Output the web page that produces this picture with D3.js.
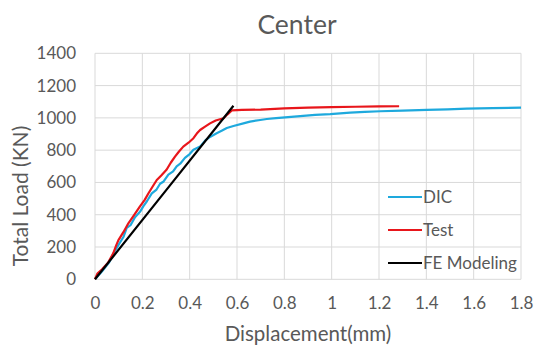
<!DOCTYPE html>
<html>
<head>
<meta charset="utf-8">
<script src="https://cdn.jsdelivr.net/npm/d3@7"></script>
<style>
  html, body { margin: 0; padding: 0; background: #fff; }
  svg { display: block; font-family: Lato, "Open Sans", sans-serif; }
</style>
</head>
<body>
<svg id="chart" width="535" height="348"></svg>
<script>
// Load–displacement curves at the center gauge
const xTicks = [0, 0.2, 0.4, 0.6, 0.8, 1, 1.2, 1.4, 1.6, 1.8];
const yTicks = [0, 200, 400, 600, 800, 1000, 1200, 1400];

const dicX = [0, 0.03, 0.06, 0.08, 0.10, 0.12, 0.134, 0.15, 0.169, 0.19, 0.204, 0.22, 0.24, 0.26, 0.275, 0.29, 0.31, 0.33, 0.345, 0.36, 0.38, 0.40, 0.416, 0.444, 0.466, 0.486, 0.514, 0.535, 0.557, 0.585, 0.627, 0.655, 0.698, 0.726, 0.765, 0.803, 0.867, 0.93, 0.994, 1.078, 1.14, 1.205, 1.30, 1.402, 1.49, 1.571, 1.68, 1.80];
const dicY = [0, 50, 105, 165, 215, 262, 318, 335, 385, 418, 452, 485, 532, 556, 592, 606, 648, 668, 700, 716, 752, 776, 803, 822, 860, 882, 905, 920, 937, 950, 966, 977, 987, 993, 998, 1003, 1011, 1018, 1023, 1033, 1037, 1041, 1045, 1049, 1053, 1057, 1060, 1063];

const testX = [0, 0.01, 0.03, 0.055, 0.077, 0.09, 0.099, 0.12, 0.141, 0.165, 0.19, 0.21, 0.226, 0.245, 0.261, 0.28, 0.303, 0.32, 0.338, 0.355, 0.373, 0.395, 0.416, 0.43, 0.444, 0.465, 0.486, 0.51, 0.543, 0.56, 0.578, 0.62, 0.70, 0.80, 0.90, 1.0, 1.1, 1.2, 1.285];
const testY = [0, 35, 62, 102, 161, 212, 243, 292, 347, 398, 452, 492, 533, 578, 615, 643, 680, 722, 760, 792, 822, 846, 874, 903, 925, 946, 966, 984, 998, 1022, 1046, 1049, 1051, 1059, 1063, 1066, 1069, 1071, 1072];

const feX = [0, 0.3, 0.585];
const feY = [0, 551, 1075];

const seriesNames = ["DIC", "Test", "FE Modeling"];
const seriesColors = ["#1ea9dd", "#e8161b", "#000000"];

const svg = d3.select("#chart");
const plot = { left: 95, right: 521, top: 53.3, bottom: 279.3 };

const x = d3.scaleLinear().domain([0, 1.8]).range([plot.left, plot.right]);
const y = d3.scaleLinear().domain([0, 1400]).range([plot.bottom, plot.top]);

const textColor = "#595959";
const gridColor = "#d9d9d9";

// gridlines
svg.append("g").selectAll("line").data(xTicks).join("line")
  .attr("x1", d => x(d)).attr("x2", d => x(d))
  .attr("y1", plot.top).attr("y2", plot.bottom)
  .attr("stroke", gridColor).attr("stroke-width", 1);
svg.append("g").selectAll("line").data(yTicks).join("line")
  .attr("x1", plot.left).attr("x2", plot.right)
  .attr("y1", d => y(d)).attr("y2", d => y(d))
  .attr("stroke", gridColor).attr("stroke-width", 1);

// axes (labels only, lines hidden)
const xAxis = svg.append("g")
  .attr("transform", `translate(0,${plot.bottom})`)
  .call(d3.axisBottom(x).tickValues(xTicks).tickSize(0).tickPadding(18).tickFormat(d => String(d)));
const yAxis = svg.append("g")
  .attr("transform", `translate(${plot.left},0)`)
  .call(d3.axisLeft(y).tickValues(yTicks).tickSize(0).tickPadding(19).tickFormat(d => String(d)));
[xAxis, yAxis].forEach(a => {
  a.select(".domain").remove();
  a.selectAll("text").attr("fill", textColor).style("font-size", "17px").style("font-family", "Lato, sans-serif");
});

// series
const line = d3.line().x(d => x(d[0])).y(d => y(d[1]));
const series = [
  d3.zip(dicX, dicY),
  d3.zip(testX, testY),
  d3.zip(feX, feY)
];
series.forEach((pts, i) => {
  svg.append("path").datum(pts)
    .attr("d", line)
    .attr("fill", "none")
    .attr("stroke", seriesColors[i])
    .attr("stroke-width", 2.2)
    .attr("stroke-linejoin", "round");
});

// title
svg.append("text")
  .attr("x", 297).attr("y", 34)
  .attr("text-anchor", "middle")
  .attr("fill", textColor)
  .style("font-size", "26.5px")
  .text("Center");

// axis titles
svg.append("text")
  .attr("x", 308).attr("y", 341)
  .attr("text-anchor", "middle")
  .attr("fill", textColor)
  .style("font-size", "20.5px")
  .text("Displacement(mm)");
svg.append("text")
  .attr("transform", "translate(28,196) rotate(-90)")
  .attr("text-anchor", "middle")
  .attr("fill", textColor)
  .style("font-size", "21px")
  .text("Total Load (KN)");

// legend
const legendY = [197, 230, 263];
const legend = svg.append("g");
seriesNames.forEach((name, i) => {
  legend.append("line")
    .attr("x1", 388).attr("x2", 422)
    .attr("y1", legendY[i]).attr("y2", legendY[i])
    .attr("stroke", seriesColors[i]).attr("stroke-width", 2.2);
  legend.append("text")
    .attr("x", 423).attr("y", legendY[i])
    .attr("dy", "0.35em")
    .attr("fill", textColor)
    .style("font-size", "17px")
    .text(name);
});
</script>
</body>
</html>
